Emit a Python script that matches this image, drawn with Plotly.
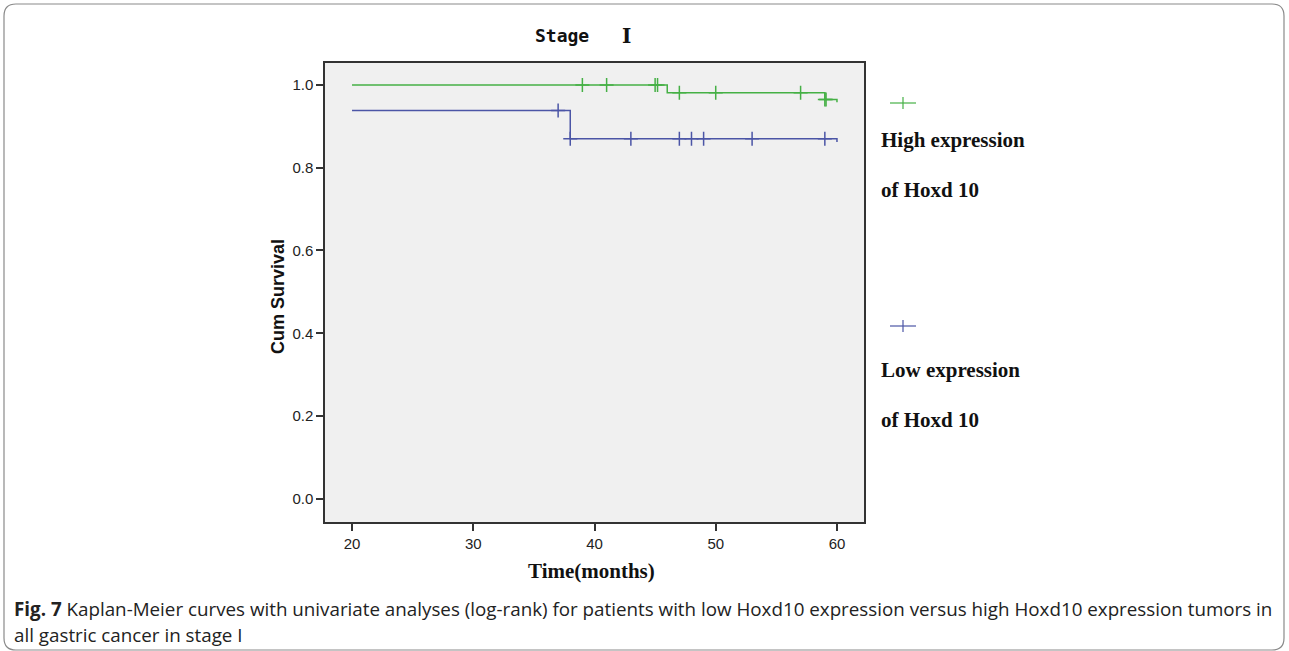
import plotly.graph_objects as go

# ---------------- data ----------------
high_times = [20, 46, 59, 60]
high_surv = [1.0, 0.981, 0.965, 0.958]
high_cens_t = [39, 41, 45, 45.2, 47, 50, 57, 59, 59.1]
high_cens_s = [1.0, 1.0, 1.0, 1.0, 0.981, 0.981, 0.981, 0.965, 0.965]

low_times = [20, 38, 60]
low_surv = [0.938, 0.870, 0.862]
low_cens_t = [37, 38, 43, 47, 48, 49, 53, 59]
low_cens_s = [0.938, 0.870, 0.870, 0.870, 0.870, 0.870, 0.870, 0.870]

x_ticks = [20, 30, 40, 50, 60]
y_ticks = [0.0, 0.2, 0.4, 0.6, 0.8, 1.0]

GREEN = "#45b045"
BLUE = "#4b55a6"

# ---------------- layout geometry (pixels) ----------------
W, H = 1289, 651
L, R, T, B = 325, 864, 63, 522
PW, PH = R - L, B - T


def px(x):
    return (x - L) / PW


def py(y):
    return (B - y) / PH


fig = go.Figure()

fig.add_trace(go.Scatter(x=high_times, y=high_surv, mode="lines",
                         line=dict(color=GREEN, width=1.5, shape="hv"),
                         showlegend=False, hoverinfo="skip"))
fig.add_trace(go.Scatter(x=high_cens_t, y=high_cens_s, mode="markers",
                         marker=dict(symbol="cross-thin", size=10,
                                     line=dict(color=GREEN, width=1.5)),
                         showlegend=False))
fig.add_trace(go.Scatter(x=low_times, y=low_surv, mode="lines",
                         line=dict(color=BLUE, width=1.5, shape="hv"),
                         showlegend=False, hoverinfo="skip"))
fig.add_trace(go.Scatter(x=low_cens_t, y=low_cens_s, mode="markers",
                         marker=dict(symbol="cross-thin", size=10,
                                     line=dict(color=BLUE, width=1.5)),
                         showlegend=False))

axis_common = dict(showgrid=False, zeroline=False, showline=True, mirror=True,
                   linecolor="#333333", linewidth=1.5, ticks="outside",
                   ticklen=7, tickwidth=1.5, tickcolor="#333333",
                   tickfont=dict(family="Liberation Sans, Arial", size=15, color="#222222"))

fig.update_xaxes(range=[17.77, 62.23], tickvals=x_ticks,
                 ticktext=[str(v) for v in x_ticks], **axis_common)
fig.update_yaxes(range=[-0.056, 1.053], tickvals=y_ticks,
                 ticktext=[f"{v:.1f}" for v in y_ticks], **axis_common)

serif_b = dict(family="Liberation Serif, Times New Roman, serif", size=21, color="#111111")

ann = []
# axis titles
ann.append(dict(text="<b>Time(months)</b>", x=px(591), y=py(571), font=serif_b))
ann.append(dict(text="<b>Cum Survival</b>", x=px(278), y=py(297), textangle=-90,
                font=dict(family="Liberation Sans, Arial", size=18, color="#111111")))
# title
ann.append(dict(text="<b>Stage</b>", x=px(562), y=py(35),
                font=dict(family="DejaVu Sans Mono, monospace", size=18, color="#111111")))
ann.append(dict(text="<b>Ⅰ</b>", x=px(626), y=py(36),
                font=dict(family="DejaVu Serif, Liberation Serif, serif", size=20, color="#111111")))
# legend text
for txt, yy in [("High expression", 140), ("of Hoxd 10", 190),
                ("Low expression", 370), ("of Hoxd 10", 420)]:
    ann.append(dict(text=f"<b>{txt}</b>", x=px(879), y=py(yy), xanchor="left", font=serif_b))
# caption
cap_font = dict(family="Open Sans, Noto Sans, sans-serif", size=18.8, color="#222222")
ann.append(dict(text="<b>Fig. 7</b> Kaplan-Meier curves with univariate analyses (log-rank) for patients with low Hoxd10 expression versus high Hoxd10 expression tumors in",
                x=px(12), y=py(609), xanchor="left", font=cap_font))
ann.append(dict(text="all gastric cancer in stage I", x=px(12), y=py(635), xanchor="left", font=cap_font))

for a in ann:
    a.update(xref="paper", yref="paper", showarrow=False)
    a.setdefault("xanchor", "center")
    a.setdefault("yanchor", "middle")
fig.update_layout(annotations=ann)

shapes = []
# legend symbols
for cx, cy, col in [(903, 103, GREEN), (903, 326, BLUE)]:
    shapes.append(dict(type="line", x0=px(cx - 13), x1=px(cx + 13), y0=py(cy), y1=py(cy),
                       line=dict(color=col, width=1.2)))
    shapes.append(dict(type="line", x0=px(cx), x1=px(cx), y0=py(cy - 6), y1=py(cy + 6),
                       line=dict(color=col, width=1.2)))
# outer rounded frame
x0, x1, y0, y1, r = 4, 1284, 4, 650, 12
path = (f"M {px(x0 + r)},{py(y0)} L {px(x1 - r)},{py(y0)} "
        f"Q {px(x1)},{py(y0)} {px(x1)},{py(y0 + r)} L {px(x1)},{py(y1 - r)} "
        f"Q {px(x1)},{py(y1)} {px(x1 - r)},{py(y1)} L {px(x0 + r)},{py(y1)} "
        f"Q {px(x0)},{py(y1)} {px(x0)},{py(y1 - r)} L {px(x0)},{py(y0 + r)} "
        f"Q {px(x0)},{py(y0)} {px(x0 + r)},{py(y0)} Z")
shapes.append(dict(type="path", path=path, xref="paper", yref="paper",
                   line=dict(color="#8a8a8a", width=1.2), layer="below"))
for s in shapes:
    s.setdefault("xref", "paper")
    s.setdefault("yref", "paper")
fig.update_layout(shapes=shapes)

fig.update_layout(width=W, height=H, margin=dict(l=L, r=W - R, t=T, b=H - B),
                  plot_bgcolor="#f0f0f0", paper_bgcolor="white", showlegend=False)

fig.write_html("out.html", config={"displayModeBar": False},
               post_script="document.body.style.margin='0px';document.body.style.overflow='hidden';")
